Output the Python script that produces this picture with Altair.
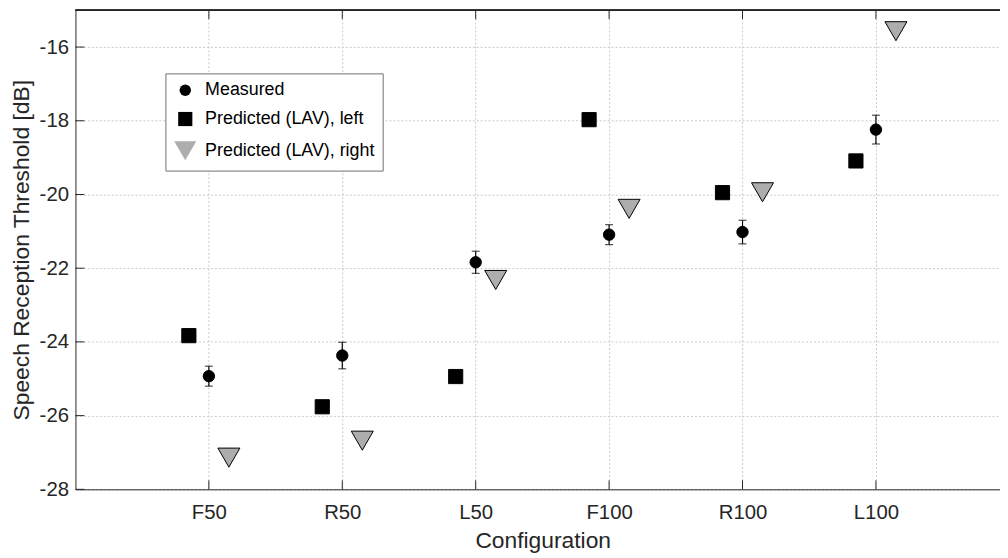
import altair as alt
import pandas as pd

# ---- data ----
categories = ["F50", "R50", "L50", "F100", "R100", "L100"]
measured = [-24.93, -24.37, -21.84, -21.09, -21.02, -18.24]
measured_err = [0.27, 0.36, 0.30, 0.27, 0.32, 0.39]
pred_left = [-23.83, -25.76, -24.94, -17.97, -19.95, -19.09]
pred_right = [-27.14, -26.68, -22.32, -20.39, -19.94, -15.57]
series_names = ["Measured", "Predicted (LAV), left", "Predicted (LAV), right"]
y_ticks = [-28, -26, -24, -22, -20, -18, -16]

# ---- layout / style ----
FONT = "Liberation Sans"
INK = "#262626"
OFF = 0.15
W, H = 932, 483
XMAX = 6.93

n = len(categories)
idx = list(range(1, n + 1))

pts = pd.DataFrame({
    "pos": idx + [i - OFF for i in idx] + [i + OFF for i in idx],
    "value": measured + pred_left + pred_right,
    "series": [series_names[0]] * n + [series_names[1]] * n + [series_names[2]] * n,
})
err = pd.DataFrame({
    "pos": idx,
    "lo": [m - e for m, e in zip(measured, measured_err)],
    "hi": [m + e for m, e in zip(measured, measured_err)],
})
xt = pd.DataFrame({"pos": idx})
yt = pd.DataFrame({"v": y_ticks})

xscale = alt.Scale(domain=[0, XMAX], nice=False, zero=False)
yscale = alt.Scale(domain=[-28, -15], nice=False, zero=False)

# symbol sizes come from an evenly spaced point scale; unused slots space the
# triangle's size away from the circle and square
slots = [series_names[0], series_names[1], "_s2", "_s3", "_s4", series_names[2]]
fill_range = ["black", "black", "black", "black", "black", "#adadad"]
shape_range = ["circle", "square", "circle", "circle", "circle", "triangle-down"]

label_expr = "[''," + ",".join("'%s'" % c for c in categories) + "][datum.value]"

x_axis = alt.Axis(
    values=idx, labelExpr=label_expr, title="Configuration",
    grid=True, gridDash=[2, 2], gridColor="#c8c8c8", gridWidth=1,
    ticks=False, domainColor=INK, domainWidth=1,
    labelFontSize=20.5, labelPadding=13, labelColor=INK, labelFont=FONT,
    titleFontSize=23, titleFont=FONT, titleColor=INK, titleFontWeight="normal",
    titleX=471, titleY=59, titleBaseline="alphabetic",
)
y_axis = alt.Axis(
    values=y_ticks, labelExpr="'' + datum.value",
    title="Speech Reception Threshold [dB]",
    grid=True, gridDash=[2, 2], gridColor="#c8c8c8", gridWidth=1,
    ticks=False, domainColor=INK, domainWidth=1,
    labelFontSize=20.5, labelPadding=7, labelColor=INK, labelFont=FONT,
    titleFontSize=23, titleFont=FONT, titleColor=INK, titleFontWeight="normal",
    titleX=-47, titleY=H / 2, titleBaseline="alphabetic", titleAngle=-90,
)

legend = alt.Legend(title=None, orient="none", legendX=90.7, legendY=63.7,
                    values=series_names, symbolStrokeColor="black",
                    symbolStrokeWidth=1)

X = alt.X("pos:Q", scale=xscale, axis=x_axis, title="Configuration")

points = alt.Chart(pts).mark_point(
    filled=True, stroke="black", strokeWidth=1, opacity=1
).encode(
    x=X,
    y=alt.Y("value:Q", scale=yscale, axis=y_axis, title="Speech Reception Threshold [dB]"),
    fill=alt.Fill("series:N", scale=alt.Scale(domain=slots, range=fill_range),
                  legend=legend),
    shape=alt.Shape("series:N", scale=alt.Scale(domain=slots, range=shape_range),
                    legend=legend),
    size=alt.Size("series:N", scale=alt.Scale(type="point", domain=slots,
                  range=[132, 492], padding=0), legend=legend),
)

def Y(field):
    return alt.Y(field, scale=yscale, axis=y_axis, title="Speech Reception Threshold [dB]")

err_rule = alt.Chart(err).mark_rule(color="black", strokeWidth=1.2).encode(
    x=X, y=Y("lo:Q"), y2="hi:Q",
)
cap_lo = alt.Chart(err).mark_tick(color="black", orient="horizontal",
                                   size=8, thickness=1.2).encode(x=X, y=Y("lo:Q"))
cap_hi = alt.Chart(err).mark_tick(color="black", orient="horizontal",
                                   size=8, thickness=1.2).encode(x=X, y=Y("hi:Q"))

ytick_marks = alt.Chart(yt).mark_rule(color=INK, strokeWidth=1).encode(
    y=Y("v:Q"), x=alt.value(0), x2=alt.value(9),
)
xtick_bottom = alt.Chart(xt).mark_rule(color=INK, strokeWidth=1).encode(
    x=X, y=alt.value(H), y2=alt.value(H - 9),
)
xtick_top = alt.Chart(xt).mark_rule(color=INK, strokeWidth=1).encode(
    x=X, y=alt.value(0), y2=alt.value(9),
)
top_border = alt.Chart(yt).mark_rule(color=INK, strokeWidth=1).encode(
    y=alt.Y(datum=-15, scale=yscale, axis=y_axis, title="Speech Reception Threshold [dB]"),
)

chart = alt.layer(
    points, err_rule, cap_lo, cap_hi,
    ytick_marks, xtick_bottom, xtick_top, top_border,
).properties(
    width=W, height=H,
    autosize=alt.AutoSizeParams(type="none"),
    padding={"left": 68, "top": 0, "right": 0, "bottom": 66},
).configure(
    font=FONT
).configure_view(
    stroke=None
).configure_legend(
    labelFontSize=18, labelFont=FONT, labelColor="black", labelLimit=400,
    padding=8, rowPadding=10, labelOffset=8,
    strokeColor="#707070", fillColor="white",
    symbolStrokeColor="black", symbolStrokeWidth=1,
)

chart.save("out.html", embed_options={"renderer": "svg", "actions": False})
